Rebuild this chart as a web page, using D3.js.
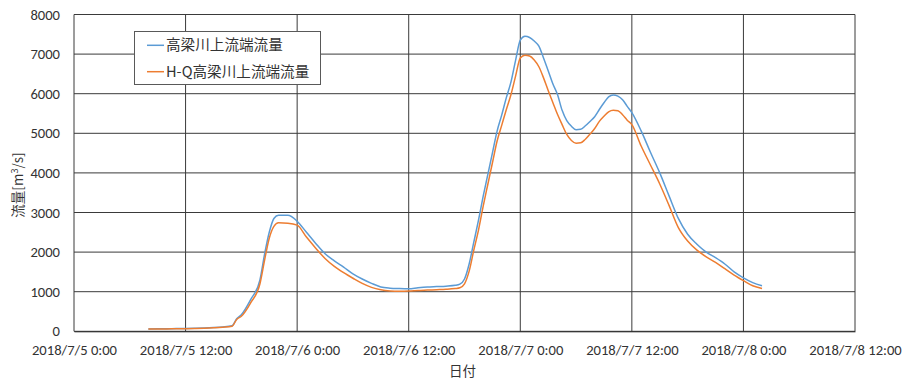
<!DOCTYPE html>
<html lang="ja">
<head>
    <meta charset="UTF-8">
    <title>高梁川上流端流量</title>
    <script src="https://d3js.org/d3.v7.min.js"></script>
    <style>
        body { margin: 0; background: white; }
        .tick text { font-family: Calibri, Carlito, Lato, sans-serif; font-size: 14.6px; fill: #333; }
        .jp { font-family: "Noto Sans CJK JP", sans-serif; fill: #333; }
    </style>
</head>
<body>
    <svg id="svg1" width="904" height="383"></svg>

    <script>
        // data ------------------------------------------------------------
        // hours since 2018/7/5 0:00
        const hours = [8, 9, 10, 11, 12, 13, 14, 15, 16, 17, 17.5, 18, 19, 20, 20.5, 21, 21.5, 22, 23, 24,
            25, 26, 27, 28, 29, 30, 31, 32, 33, 34, 35, 36, 37, 38, 39, 40, 41, 41.5, 42, 42.5,
            43, 43.5, 44, 44.5, 45, 45.5, 46, 46.5, 47, 47.5, 48, 48.5, 49, 49.5, 50, 50.5, 51, 51.5,
            52, 52.5, 53, 53.5, 54, 54.5, 55, 55.5, 56, 56.5, 57, 57.5, 58, 58.5, 59, 59.5, 60,
            61, 62, 63, 64, 65, 66, 67, 68, 69, 70, 71, 72, 73, 74];

        const flowObs = [60, 62, 65, 68, 72, 78, 85, 95, 110, 140, 320, 420, 800, 1300, 1950, 2500, 2850, 2930, 2930, 2780,
            2500, 2220, 1960, 1780, 1620, 1450, 1320, 1210, 1120, 1090, 1080, 1075, 1100, 1120, 1130, 1140, 1160, 1190, 1320, 1700,
            2250, 2800, 3400, 3950, 4500, 5050, 5460, 5900, 6300, 6850, 7350, 7450, 7420, 7330, 7200, 6900, 6580, 6250,
            5980, 5580, 5320, 5180, 5090, 5100, 5190, 5300, 5420, 5600, 5770, 5920, 5970, 5940, 5850, 5680, 5520,
            5060, 4520, 4000, 3420, 2850, 2450, 2200, 2000, 1860, 1700, 1500, 1350, 1230, 1150];

        const flowHQ = [55, 57, 60, 63, 67, 73, 80, 90, 105, 130, 300, 380, 720, 1200, 1800, 2350, 2650, 2740, 2730, 2680,
            2380, 2100, 1840, 1640, 1480, 1340, 1210, 1110, 1050, 1020, 1010, 1015, 1030, 1040, 1050, 1060, 1080, 1100, 1200, 1520,
            2050, 2550, 3150, 3700, 4250, 4800, 5200, 5600, 5980, 6450, 6900, 6970, 6950, 6850, 6680, 6400, 6080, 5780,
            5480, 5220, 4970, 4820, 4750, 4760, 4850, 4980, 5120, 5300, 5430, 5540, 5580, 5570, 5470, 5330, 5220,
            4680, 4200, 3720, 3180, 2620, 2280, 2050, 1880, 1740, 1580, 1420, 1280, 1150, 1080];

        const seriesNames = ["高梁川上流端流量", "H-Q高梁川上流端流量"];
        const seriesColors = ["#5B9BD5", "#ED7D31"];
        const yTicks = [0, 1000, 2000, 3000, 4000, 5000, 6000, 7000, 8000];

        // svg configuration ----------------------------------------------
        const svg1 = d3.select("svg#svg1");
        const margin = {left: 74, right: 49, top: 14.5, bottom: 51.7};
        const chartWidth = 904 - margin.left - margin.right;
        const chartHeight = 383 - margin.top - margin.bottom;

        const start = new Date(2018, 6, 5, 0, 0);
        const end = new Date(2018, 6, 8, 12, 0);
        const toDate = h => new Date(start.getTime() + h * 3600 * 1000);

        const xScale = d3.scaleTime().domain([start, end]).range([0, chartWidth]);
        const yScale = d3.scaleLinear().domain([0, 8000]).range([chartHeight, 0]);

        const chart = svg1.append("g")
            .attr("transform", `translate(${margin.left},${margin.top})`);

        const xTickValues = d3.range(0, 85, 12).map(toDate);
        const fmt = d3.timeFormat("%Y/%-m/%-d %-H:%M");

        // grids -----------------------------------------------------------
        chart.append("g")
            .selectAll("line")
            .data(yTicks)
            .join("line")
            .attr("x1", 0).attr("x2", chartWidth)
            .attr("y1", d => yScale(d)).attr("y2", d => yScale(d))
            .attr("stroke", "#3a3a3a").attr("stroke-width", 1);

        chart.append("g")
            .selectAll("line")
            .data(xTickValues)
            .join("line")
            .attr("x1", d => xScale(d)).attr("x2", d => xScale(d))
            .attr("y1", 0).attr("y2", chartHeight)
            .attr("stroke", "#3a3a3a").attr("stroke-width", 1);

        // axes ------------------------------------------------------------
        const axisLeft = d3.axisLeft(yScale).tickValues(yTicks).tickFormat(d3.format("d"))
            .tickSize(0).tickPadding(14);
        chart.append("g").call(axisLeft)
            .call(g => g.select(".domain").remove());

        const axisBottom = d3.axisBottom(xScale).tickValues(xTickValues).tickFormat(fmt)
            .tickSize(0).tickPadding(13);
        chart.append("g")
            .attr("transform", `translate(0,${chartHeight})`)
            .call(axisBottom)
            .call(g => g.select(".domain").attr("stroke", "#262626"));

        // axis titles
        svg1.append("text")
            .attr("class", "jp")
            .attr("x", margin.left + xScale(toDate(42)) - 2)
            .attr("y", 376)
            .attr("text-anchor", "middle")
            .style("font-size", "13.5px")
            .text("日付");

        const yTitle = svg1.append("text")
            .attr("class", "jp")
            .attr("transform", "translate(23,185) rotate(-90)")
            .attr("text-anchor", "middle")
            .style("font-size", "13.5px");
        yTitle.append("tspan").text("流量[m");
        yTitle.append("tspan").attr("dy", -5).style("font-size", "9px").text("3");
        yTitle.append("tspan").attr("dy", 5).text("/s]");

        // lines -----------------------------------------------------------
        const lineGen = vals => d3.line()
            .x((d, i) => xScale(toDate(hours[i])))
            .y(d => yScale(d))
            .curve(d3.curveMonotoneX)(vals);

        [flowObs, flowHQ].forEach((vals, i) => {
            chart.append("path")
                .attr("fill", "none")
                .attr("stroke", seriesColors[i])
                .attr("stroke-width", 1.5)
                .attr("d", lineGen(vals));
        });

        // legend ----------------------------------------------------------
        const legend = svg1.append("g");
        legend.append("rect")
            .attr("x", 134.5).attr("y", 31.5)
            .attr("width", 186).attr("height", 53)
            .attr("fill", "white").attr("stroke", "#595959");

        seriesNames.forEach((name, i) => {
            const ly = 45.3 + i * 26.4;
            legend.append("line")
                .attr("x1", 147).attr("x2", 164)
                .attr("y1", ly).attr("y2", ly)
                .attr("stroke", seriesColors[i]).attr("stroke-width", 1.5);
            legend.append("text")
                .attr("class", "jp")
                .attr("x", 166).attr("y", ly)
                .attr("dy", "0.35em")
                .style("font-size", "14.6px")
                .text(name);
        });
    </script>
</body>
</html>
